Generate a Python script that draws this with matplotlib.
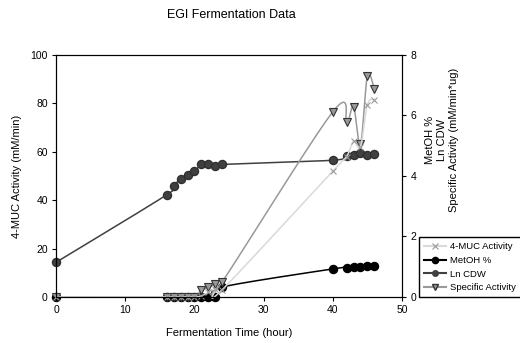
import numpy as np
import matplotlib.pyplot as plt

plt.rcParams['font.family'] = ['Liberation Sans', 'DejaVu Sans']

# fermentation data
hours = [0, 16, 17, 18, 19, 20, 21, 22, 23, 24, 40, 42, 43, 44, 45, 46]
muc_activity = [0, 0, 0, 0, 0, 0, 0.5, 2, 3.5, 3, 52, 58, 64.5, 62, 79.5, 81.5]
metoh = [0, 0, 0, 0, 0, 0, 0, 0, 0, 0.33, 0.93, 0.97, 0.99, 1.0, 1.01, 1.03]
ln_cdw = [1.15, 3.38, 3.68, 3.9, 4.04, 4.15, 4.38, 4.38, 4.34, 4.38, 4.52, 4.67, 4.70, 4.76, 4.68, 4.72]
spec_activity = [0, 0, 0, 0, 0, 0, 0.23, 0.32, 0.42, 0.5, 6.12, 5.78, 6.29, 5.05, 7.3, 6.88]


def smooth(x, y, n=40):
    # parametric catmull-rom curve through the points
    p = np.column_stack([x, y]).astype(float)
    p = np.vstack([p[:1], p, p[-1:]])
    t = np.linspace(0, 1, n)[:, None]
    out = []
    for i in range(1, len(p) - 2):
        p0, p1, p2, p3 = p[i - 1], p[i], p[i + 1], p[i + 2]
        seg = 0.5 * (2 * p1 + (p2 - p0) * t
                     + (2 * p0 - 5 * p1 + 4 * p2 - p3) * t**2
                     + (3 * p1 - p0 - 3 * p2 + p3) * t**3)
        out.append(seg)
    out = np.vstack(out)
    return out[:, 0], out[:, 1]


fig = plt.figure(figsize=(5.2, 3.43), dpi=100)
ax = fig.add_axes([0.108, 0.134, 0.665, 0.706])
ax2 = ax.twinx()
ax.set_zorder(ax2.get_zorder() + 1)
ax.patch.set_visible(False)

ms = 5.8
sx, sy = smooth(hours, metoh)
ax2.plot(sx, sy, color='black', lw=1.1, clip_on=False)
ax2.plot(hours, metoh, 'o', color='black', ms=ms, clip_on=False)
sx, sy = smooth(hours, ln_cdw)
ax2.plot(sx, sy, color='#404040', lw=1.1, clip_on=False)
ax2.plot(hours, ln_cdw, 'o', color='#404040', mec='#303030', ms=ms, clip_on=False)
sx, sy = smooth(hours, spec_activity)
ax2.plot(sx, sy, color='#999999', lw=1.1, clip_on=False)
ax2.plot(hours, spec_activity, 'v', color='#999999', mec='#333333', mew=0.8, ms=ms + 0.3, clip_on=False)

sx, sy = smooth(hours, muc_activity)
ax.plot(sx, sy, color='#d9d9d9', lw=1.1, clip_on=False)
ax.plot(hours, muc_activity, 'x', color='#999999', ms=ms - 0.8, mew=0.8, clip_on=False)

ax.set_xlim(0, 50)
ax.set_ylim(0, 100)
ax2.set_ylim(0, 8)
ax.set_xticks(range(0, 51, 10))
ax.set_yticks(range(0, 101, 20))
ax2.set_yticks(range(0, 9, 2))
for a in (ax, ax2):
    a.tick_params(labelsize=7.5, length=3, width=0.8, direction='out', pad=3)
    for s in a.spines.values():
        s.set_linewidth(0.8)

ax.set_xlabel('Fermentation Time (hour)', fontsize=8, labelpad=9)
ax.set_ylabel('4-MUC Activity (mM/min)', fontsize=8, labelpad=6)
ax.text(1.116, 0.65, 'MetOH %\nLn CDW\nSpecific Activity (mM/min*ug)', transform=ax.transAxes,
        rotation=90, ha='center', va='center', multialignment='center', fontsize=8)
fig.text(0.445, 0.955, 'EGI Fermentation Data', ha='center', va='center', fontsize=9)

handles = [
    plt.Line2D([], [], color='#d9d9d9', marker='x', mec='#999999', ms=4, mew=0.8),
    plt.Line2D([], [], color='black', marker='o', ms=4.5),
    plt.Line2D([], [], color='#404040', marker='o', ms=4),
    plt.Line2D([], [], color='#999999', marker='v', mec='#333333', ms=4.5),
]
labels = ['4-MUC Activity', 'MetOH %', 'Ln CDW', 'Specific Activity']
fig.legend(handles, labels, loc='lower left', bbox_to_anchor=(0.806, 0.134), fontsize=6.8,
           frameon=True, fancybox=False, edgecolor='black', framealpha=1, borderpad=0.5,
           handlelength=2.3, handletextpad=0.5, labelspacing=0.5, borderaxespad=0)

fig.savefig('out.png', dpi=100)
